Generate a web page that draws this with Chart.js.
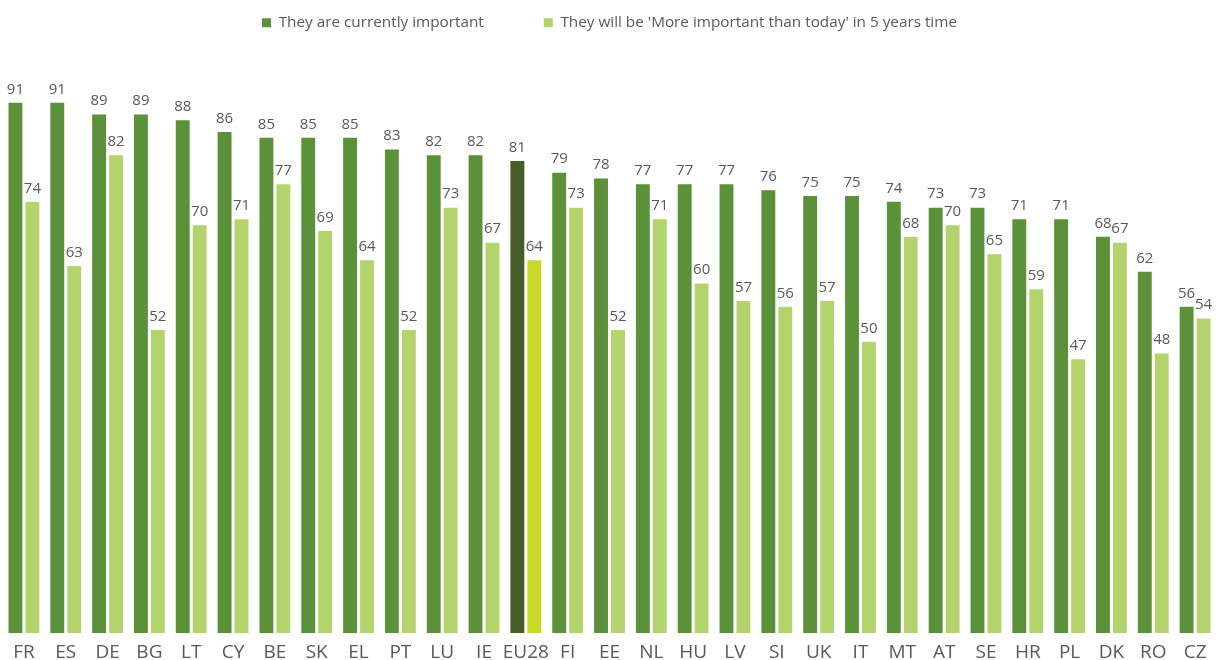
<!DOCTYPE html>
<html>
<head>
<meta charset="utf-8">
<script src="https://cdn.jsdelivr.net/npm/chart.js@4/dist/chart.umd.min.js"></script>
<style>
  html, body { margin: 0; padding: 0; background: #fff; }
  #wrap { width: 1219px; height: 660px; }
</style>
</head>
<body>
<div id="wrap"><canvas id="chart"></canvas></div>
<script>
var countries = ['FR','ES','DE','BG','LT','CY','BE','SK','EL','PT','LU','IE','EU28','FI','EE','NL','HU','LV','SI','UK','IT','MT','AT','SE','HR','PL','DK','RO','CZ'];
var currentlyImportant = [91,91,89,89,88,86,85,85,85,83,82,82,81,79,78,77,77,77,76,75,75,74,73,73,71,71,68,62,56];
var moreImportantIn5 = [74,63,82,52,70,71,77,69,64,52,73,67,64,73,52,71,60,57,56,57,50,68,70,65,59,47,67,48,54];
var seriesNames = ['They are currently important', "They will be 'More important than today' in 5 years time"];

var darkGreen = '#5a9139', lightGreen = '#b3d46d';
var euDark = '#465d29', euLight = '#c9d92a';

var darkColors = countries.map(function(c) { return c === 'EU28' ? euDark : darkGreen });
var lightColors = countries.map(function(c) { return c === 'EU28' ? euLight : lightGreen });

// value labels above each bar
var valueLabels = {
    id: 'valueLabels',
    afterDatasetsDraw: function(chart) {
        var ctx = chart.ctx;
        ctx.save();
        ctx.font = '15px "Open Sans"';
        ctx.fillStyle = '#595959';
        ctx.textAlign = 'center';
        ctx.textBaseline = 'bottom';
        chart.data.datasets.forEach(function(ds, i) {
            chart.getDatasetMeta(i).data.forEach(function(bar, j) {
                ctx.fillText(ds.data[j], bar.x, bar.y - 6);
            });
        });
        ctx.restore();
    }
};

// a bit more room under the legend
var legendGap = {
    id: 'legendGap',
    beforeInit: function(chart) {
        var origFit = chart.legend.fit;
        chart.legend.fit = function() {
            origFit.bind(chart.legend)();
            this.height += 10;
        };
    }
};

var ctx = document.getElementById('chart').getContext('2d');
new Chart(ctx, {
    type: 'bar',
    data: {
        labels: countries,
        datasets: [{
            label: seriesNames[0],
            data: currentlyImportant,
            backgroundColor: darkColors
        }, {
            label: seriesNames[1],
            data: moreImportantIn5,
            backgroundColor: lightColors
        }]
    },
    options: {
        responsive: true,
        maintainAspectRatio: false,
        animation: false,
        categoryPercentage: 0.81,
        barPercentage: 0.82,
        layout: { padding: { left: 3, right: 3, top: -45, bottom: -12 } },
        plugins: {
            legend: {
                position: 'top',
                labels: {
                    boxWidth: 9,
                    boxHeight: 9,
                    padding: 60,
                    color: '#595959',
                    font: { family: '"Open Sans"', size: 15.3 },
                    generateLabels: function(chart) {
                        return chart.data.datasets.map(function(ds, i) {
                            return {
                                text: ds.label,
                                fillStyle: i === 0 ? darkGreen : lightGreen,
                                strokeStyle: 'rgba(0,0,0,0)',
                                lineWidth: 0,
                                fontColor: '#595959',
                                datasetIndex: i
                            };
                        });
                    }
                }
            },
            tooltip: { enabled: false }
        },
        scales: {
            x: {
                grid: { display: false, drawTicks: false },
                border: { display: false },
                ticks: {
                    color: '#595959',
                    padding: 8,
                    font: { family: '"Open Sans"', size: 19 },
                    maxRotation: 0,
                    autoSkip: false
                }
            },
            y: {
                display: false,
                min: 0,
                max: 100
            }
        }
    },
    plugins: [legendGap, valueLabels]
});
</script>
</body>
</html>
